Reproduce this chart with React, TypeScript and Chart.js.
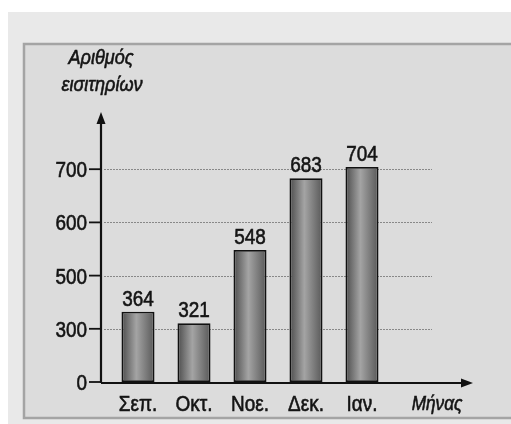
import React, { useEffect, useRef } from "react";
import { Chart, registerables, LinearScale } from "chart.js";

Chart.register(...registerables);

// ---- data ----
const months = ["Σεπ.", "Οκτ.", "Νοε.", "Δεκ.", "Ιαν."];
const tickets = [364, 321, 548, 683, 704];
const yTickValues = [0, 300, 500, 600, 700];
const yTitleLines = ["Αριθμός", "εισιτηρίων"];
const xTitle = "Μήνας";

// the printed axis spaces its labelled ticks evenly (broken scale)
const IDX_MAX = 5;
function valueToIndex(v: number): number {
  for (let i = 1; i < yTickValues.length; i++) {
    if (v <= yTickValues[i]) {
      const a = yTickValues[i - 1];
      const b = yTickValues[i];
      return i - 1 + (v - a) / (b - a);
    }
  }
  const n = yTickValues.length - 1;
  const step = yTickValues[n] - yTickValues[n - 1];
  return n + (v - yTickValues[n]) / step;
}
function indexToValue(idx: number): number {
  const n = yTickValues.length - 1;
  if (idx <= 0) return yTickValues[0] + idx * (yTickValues[1] - yTickValues[0]);
  if (idx >= n) return yTickValues[n] + (idx - n) * (yTickValues[n] - yTickValues[n - 1]);
  const i = Math.floor(idx);
  const f = idx - i;
  return yTickValues[i] + f * (yTickValues[i + 1] - yTickValues[i]);
}

class BrokenScale extends LinearScale {
  static id = "broken";
  getPixelForValue(value: number) {
    return this.getPixelForDecimal(valueToIndex(value) / IDX_MAX);
  }
  getValueForPixel(pixel: number) {
    return indexToValue(this.getDecimalForPixel(pixel) * IDX_MAX);
  }
}
Chart.register(BrokenScale as any);

const BAR_PCT = 0.59;
const TEXT = "#141414";
const SX = 0.86;

function narrowText(
  ctx: CanvasRenderingContext2D,
  text: string,
  x: number,
  y: number,
  align: CanvasTextAlign,
  font: string,
  sx = SX
) {
  ctx.save();
  ctx.font = font;
  ctx.fillStyle = TEXT;
  ctx.strokeStyle = TEXT;
  ctx.lineWidth = 0.6;
  ctx.textAlign = align;
  ctx.textBaseline = "alphabetic";
  ctx.translate(x, y);
  ctx.scale(sx, 1);
  ctx.fillText(text, 0, 0);
  ctx.strokeText(text, 0, 0);
  ctx.restore();
}

const decor = {
  id: "decor",
  beforeDraw(chart: any) {
    const { ctx, width, height } = chart;
    ctx.save();
    ctx.fillStyle = "#ffffff";
    ctx.fillRect(0, 0, width, height);
    ctx.fillStyle = "#e9e9e9";
    ctx.fillRect(8, 12, width - 8, height - 12);
    ctx.fillStyle = "#dcdcdc";
    ctx.fillRect(24, 44, width - 24, 374);
    ctx.strokeStyle = "#a4a4a4";
    ctx.lineWidth = 2.5;
    ctx.strokeRect(24, 44, width, 374);
    ctx.restore();
  },
  beforeDatasetsDraw(chart: any) {
    const { ctx, chartArea } = chart;
    const y = chart.scales.y;
    const axisX = chartArea.left - 9;
    ctx.save();
    ctx.strokeStyle = "#888888";
    ctx.lineWidth = 1;
    ctx.setLineDash([2, 1]);
    yTickValues.forEach((v) => {
      if (v === 0) return;
      const py = Math.round(y.getPixelForValue(v)) + 0.5;
      ctx.beginPath();
      ctx.moveTo(axisX + 3, py);
      ctx.lineTo(chartArea.right + 42, py);
      ctx.stroke();
    });
    ctx.restore();
  },
  afterDatasetsDraw(chart: any) {
    const { ctx, chartArea } = chart;
    const xs = chart.scales.x;
    const ys = chart.scales.y;
    const axisX = chartArea.left - 9;
    const baseY = ys.getPixelForValue(0);
    ctx.save();
    ctx.strokeStyle = "#111";
    ctx.fillStyle = "#111";
    ctx.lineWidth = 2.2;
    // y axis
    ctx.beginPath();
    ctx.moveTo(axisX, baseY + 1);
    ctx.lineTo(axisX, chartArea.top + 6);
    ctx.stroke();
    ctx.beginPath();
    ctx.moveTo(axisX, chartArea.top - 4);
    ctx.lineTo(axisX - 4.5, chartArea.top + 8);
    ctx.lineTo(axisX + 4.5, chartArea.top + 8);
    ctx.closePath();
    ctx.fill();
    // x axis
    const tipX = chartArea.right + 83;
    ctx.beginPath();
    ctx.moveTo(axisX, baseY + 1);
    ctx.lineTo(tipX - 8, baseY + 1);
    ctx.stroke();
    ctx.beginPath();
    ctx.moveTo(tipX, baseY + 1);
    ctx.lineTo(tipX - 12, baseY + 1 - 4.5);
    ctx.lineTo(tipX - 12, baseY + 1 + 4.5);
    ctx.closePath();
    ctx.fill();
    // ticks + labels
    ctx.lineWidth = 1.8;
    yTickValues.forEach((v) => {
      const py = ys.getPixelForValue(v);
      ctx.beginPath();
      ctx.moveTo(axisX - 12, py);
      ctx.lineTo(axisX, py);
      ctx.stroke();
      narrowText(ctx, String(v), axisX - 14, py + 8, "right", "22px 'Liberation Sans', Arial, sans-serif");
    });
    ctx.restore();

    // value labels
    const meta = chart.getDatasetMeta(0);
    meta.data.forEach((bar: any, i: number) => {
      narrowText(ctx, String(tickets[i]), bar.x, bar.y - 6, "center", "22px 'Liberation Sans', Arial, sans-serif");
    });
    // category labels
    months.forEach((m, i) => {
      narrowText(ctx, m, xs.getPixelForValue(i), baseY + 29, "center", "22px 'Liberation Sans', Arial, sans-serif");
    });
    // titles
    narrowText(ctx, yTitleLines[0], axisX, 64, "center", "italic 21px 'Liberation Sans', Arial, sans-serif");
    narrowText(ctx, yTitleLines[1], axisX + 1, 91, "center", "italic 21px 'Liberation Sans', Arial, sans-serif");
    narrowText(ctx, xTitle, chartArea.right + 47, baseY + 28, "center", "italic 20px 'Liberation Sans', Arial, sans-serif");
  },
};

export default function App() {
  const ref = useRef<HTMLCanvasElement>(null);
  useEffect(() => {
    document.body.style.margin = "0";
    const chart = new Chart(ref.current as HTMLCanvasElement, {
      type: "bar",
      data: {
        labels: months,
        datasets: [
          {
            data: tickets,
            backgroundColor: (c: any) => {
              const ch = c.chart;
              const xs = ch.scales && ch.scales.x;
              if (!xs || !ch.chartArea) return "#888";
              const cx = xs.getPixelForValue(c.dataIndex);
              const w = (xs.width / months.length) * BAR_PCT;
              const g = ch.ctx.createLinearGradient(cx - w / 2, 0, cx + w / 2, 0);
              g.addColorStop(0, "#4c4c4c");
              g.addColorStop(0.45, "#a4a4a4");
              g.addColorStop(1, "#585858");
              return g;
            },
            borderColor: "#111",
            borderWidth: 1.8,
            borderSkipped: false,
            barPercentage: BAR_PCT,
            categoryPercentage: 1,
          },
        ],
      },
      plugins: [decor],
      options: {
        animation: false,
        responsive: false,
        devicePixelRatio: 1,
        events: [],
        layout: { padding: { left: 110, right: 121, top: 116, bottom: 42 } },
        scales: {
          x: { type: "category", display: false, offset: true },
          y: { type: "broken" as any, display: false, min: 0, max: 750 },
        },
        plugins: { legend: { display: false }, tooltip: { enabled: false } },
      },
    } as any);
    return () => chart.destroy();
  }, []);
  return <canvas ref={ref} width={511} height={424} style={{ display: "block", width: 511, height: 424 }} />;
}
